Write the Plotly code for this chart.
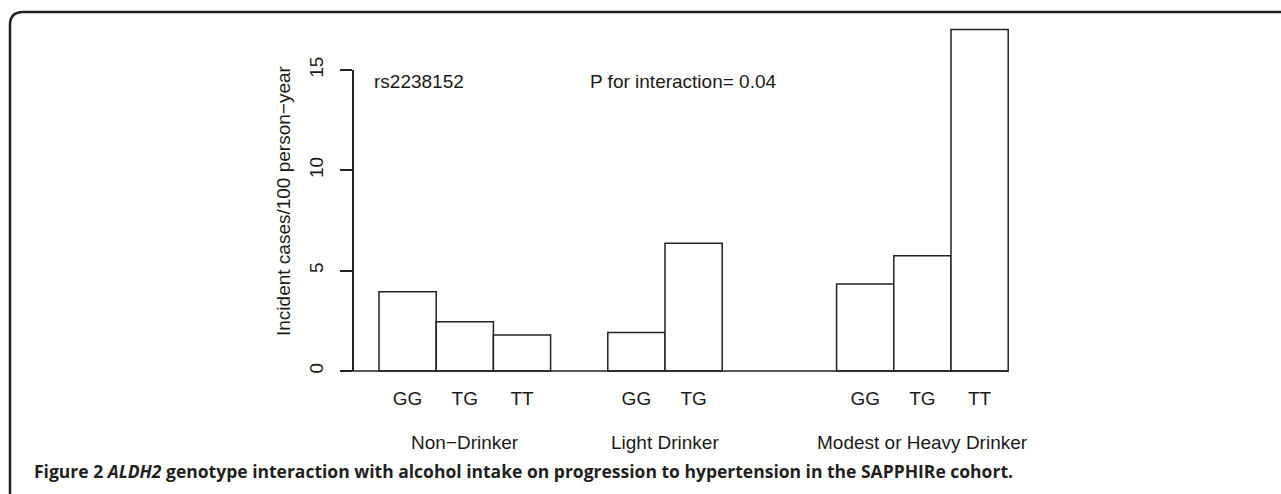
import plotly.graph_objects as go

# ---- data ----
groups = ["Non\u2212Drinker", "Light Drinker", "Modest or Heavy Drinker"]
genotypes = [["GG", "TG", "TT"], ["GG", "TG"], ["GG", "TG", "TT"]]
values = [[3.95, 2.45, 1.80], [1.92, 6.37], [4.33, 5.74, 17.02]]
bar_positions = [[0.5, 1.5, 2.5], [4.5, 5.5], [8.5, 9.5, 10.5]]
y_ticks = [0, 5, 10, 15]
y_title = "Incident cases/100 person\u2212year"
note_left = "rs2238152"
note_right = "P for interaction= 0.04"
caption = ("<b>Figure 2 <i>ALDH2</i> genotype interaction with alcohol intake on "
           "progression to hypertension in the SAPPHIRe cohort.</b>")

W, H = 1281, 494
# pixel calibration
X0_PX, UNIT_X = 379.0, 57.2      # px of x=0, px per bar-unit
Y0_PX, Y15_PX = 371.0, 70.0      # px of y=0 and y=15
UNIT_Y = (Y0_PX - Y15_PX) / 15.0
AXIS_PX = 354.0
TICKLEN = 12
INK = "#222222"
FONT = "Liberation Sans, Arial, sans-serif"

xs = [p for g in bar_positions for p in g]
ys = [v for g in values for v in g]
labels = [t for g in genotypes for t in g]

fig = go.Figure()
fig.add_trace(go.Bar(
    x=xs, y=ys, width=1.0,
    marker=dict(color="white", line=dict(color=INK, width=1.5)),
    hoverinfo="skip", showlegend=False))

# dummy trace for the tick axis
fig.add_trace(go.Scatter(x=[0], y=[0], xaxis="x2", yaxis="y2", mode="markers",
                         marker=dict(opacity=0), hoverinfo="skip", showlegend=False))

x_range = [-X0_PX / UNIT_X, (W - X0_PX) / UNIT_X]
y_range = [-(H - Y0_PX) / UNIT_Y, Y0_PX / UNIT_Y]

fig.update_layout(
    width=W, height=H, autosize=False,
    margin=dict(l=0, r=0, t=0, b=0, pad=0, autoexpand=False),
    paper_bgcolor="white", plot_bgcolor="rgba(0,0,0,0)",
    font=dict(family=FONT, size=19, color="#1a1a1a"),
    showlegend=False,
    xaxis=dict(domain=[0, 1], range=x_range, showgrid=False, zeroline=False,
               showline=False, anchor="free", position=(H - Y0_PX) / H,
               tickmode="array", tickvals=xs, ticktext=labels, ticks="",
               ticklabelstandoff=14, tickfont=dict(size=19, family=FONT),
               automargin=False, fixedrange=True),
    yaxis=dict(domain=[0, 1], range=y_range, visible=False, automargin=False,
               fixedrange=True),
    xaxis2=dict(domain=[AXIS_PX / W, AXIS_PX / W + 0.01], visible=False,
                anchor="y2", range=[0, 1], automargin=False),
    yaxis2=dict(domain=[(H - Y0_PX) / H, (H - Y15_PX) / H], range=[0, 15],
                anchor="x2", showline=True, linecolor=INK, linewidth=1.5,
                ticks="outside", ticklen=TICKLEN, tickwidth=1.5, tickcolor=INK,
                tickmode="array", tickvals=y_ticks, tickangle=-90,
                showgrid=False, zeroline=False, ticklabelstandoff=10,
                tickfont=dict(size=19, family=FONT), automargin=False),
)

# baseline along y=0
fig.add_shape(type="line", xref="x", yref="y",
              x0=(AXIS_PX - TICKLEN - X0_PX) / UNIT_X, x1=max(xs) + 0.5, y0=0, y1=0,
              line=dict(color=INK, width=1.5))

# group labels
for g, pos in zip(groups, bar_positions):
    fig.add_annotation(x=sum(pos) / len(pos), xref="x", y=1 - 442 / H, yref="paper",
                       text=g, showarrow=False, font=dict(size=19, family=FONT),
                       xanchor="center", yanchor="middle")

# y title
fig.add_annotation(x=283 / W, y=1 - 201 / H, xref="paper", yref="paper",
                   text=y_title, textangle=-90, showarrow=False,
                   font=dict(size=19, family=FONT), xanchor="center", yanchor="middle")

# in-plot notes
fig.add_annotation(x=372 / W, y=1 - 81 / H, xref="paper", yref="paper",
                   text=note_left, showarrow=False, xanchor="left", yanchor="middle",
                   font=dict(size=19, family=FONT))
fig.add_annotation(x=588 / W, y=1 - 81 / H, xref="paper", yref="paper",
                   text=note_right, showarrow=False, xanchor="left", yanchor="middle",
                   font=dict(size=19, family=FONT))

# caption
fig.add_annotation(x=32 / W, y=1 - 471 / H, xref="paper", yref="paper",
                   text=caption, showarrow=False, xanchor="left", yanchor="middle",
                   font=dict(size=17.5, family="Open Sans, sans-serif", color="#231f20"))

# frame (left + top, rounded corner)
def px(x, y):
    return f"{x / W:.5f},{1 - y / H:.5f}"
path = f"M {px(10, 500)} L {px(10, 25)} Q {px(10, 12)} {px(23, 12)} L {px(1290, 12)}"
fig.add_shape(type="path", xref="paper", yref="paper", path=path,
              line=dict(color="#231f20", width=2.5))

fig.write_html("out.html", config={"displayModeBar": False},
               post_script="document.body.style.margin='0';document.body.style.overflow='hidden';")
